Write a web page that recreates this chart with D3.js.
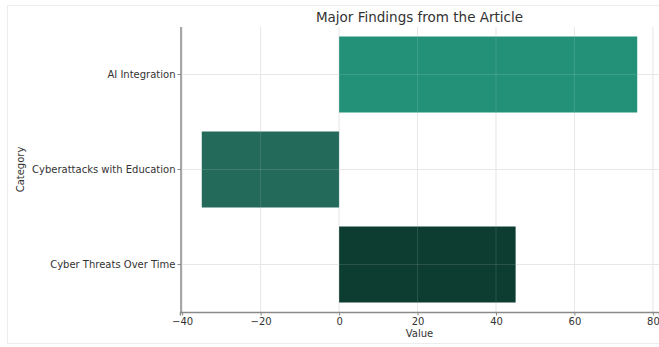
<!DOCTYPE html>
<html><head><meta charset="utf-8">
<script src="https://cdn.jsdelivr.net/npm/d3@7"></script>
<style>body{margin:0;background:#fff;} svg{display:block;}</style>
</head><body>
<script>
const categories = ["AI Integration", "Cyberattacks with Education", "Cyber Threats Over Time"];
const values = [76, -35, 45];
const colors = ["#229178", "#246a5a", "#0d3c30"];
const xTicks = [-40, -20, 0, 20, 40, 60, 80];
const title = "Major Findings from the Article";
const xLabel = "Value";
const yLabel = "Category";

const W = 659, H = 347;
const m = {left: 180, right: 0, top: 27, bottom: 35};
const svg = d3.select("body").append("svg").attr("width", W).attr("height", H);
const font = "DejaVu Sans, sans-serif";

svg.append("rect").attr("x", 7.5).attr("y", 5.5).attr("width", 660).attr("height", 338)
  .attr("fill", "#fff").attr("stroke", "#ececec");

const x = d3.scaleLinear().domain([-40.55, 81.55]).range([m.left, W - m.right]);
const y = d3.scaleBand().domain(categories).range([m.top, H - m.bottom]).paddingInner(0.2).paddingOuter(0.1);

// grid
svg.append("g").selectAll("line").data(xTicks).join("line")
  .attr("x1", d => x(d)).attr("x2", d => x(d)).attr("y1", m.top).attr("y2", H - m.bottom)
  .attr("stroke", "#e4e4e4").attr("stroke-width", 1);
svg.append("g").selectAll("line").data(categories).join("line")
  .attr("y1", d => y(d) + y.bandwidth() / 2).attr("y2", d => y(d) + y.bandwidth() / 2)
  .attr("x1", m.left).attr("x2", W - m.right)
  .attr("stroke", "#e4e4e4").attr("stroke-width", 1);

// bars
svg.append("g").selectAll("rect").data(categories).join("rect")
  .attr("x", (d, i) => x(Math.min(0, values[i])))
  .attr("width", (d, i) => Math.abs(x(values[i]) - x(0)))
  .attr("y", d => y(d)).attr("height", y.bandwidth())
  .attr("fill", (d, i) => colors[i]);

// grid over bars (faint, as in reference)
svg.append("g").selectAll("line").data(xTicks).join("line")
  .attr("x1", d => x(d)).attr("x2", d => x(d)).attr("y1", m.top).attr("y2", H - m.bottom)
  .attr("stroke", "#ffffff").attr("stroke-opacity", 0.12);
svg.append("g").selectAll("line").data(categories).join("line")
  .attr("y1", d => y(d) + y.bandwidth() / 2).attr("y2", d => y(d) + y.bandwidth() / 2)
  .attr("x1", m.left).attr("x2", W - m.right)
  .attr("stroke", "#ffffff").attr("stroke-opacity", 0.12);

// axes
const xAxis = d3.axisBottom(x).tickValues(xTicks).tickSize(3.5).tickPadding(2)
  .tickFormat(d => d < 0 ? "\u2212" + Math.abs(d) : String(d));
const gx = svg.append("g").attr("transform", `translate(0,${H - m.bottom})`).call(xAxis);
gx.select(".domain").attr("stroke", "#8a8a8a").attr("stroke-width", 1.5);
gx.selectAll(".tick line").attr("stroke", "#8a8a8a");
gx.selectAll("text").attr("font-family", font).attr("font-size", 10).attr("fill", "#333");

const yAxis = d3.axisLeft(y).tickSize(3.5).tickPadding(2);
const gy = svg.append("g").attr("transform", `translate(${m.left + 1},0)`).call(yAxis);
gy.select(".domain").attr("stroke", "#8a8a8a").attr("stroke-width", 1.5).attr("d", `M0,${m.top}V${H - m.bottom}`);
gy.selectAll(".tick line").attr("stroke", "#8a8a8a");
gy.selectAll("text").attr("font-family", font).attr("font-size", 10).attr("fill", "#333");

// labels
svg.append("text").attr("x", (m.left + W) / 2).attr("y", 22).attr("text-anchor", "middle")
  .attr("font-family", font).attr("font-size", 13.5).attr("fill", "#333").text(title);
svg.append("text").attr("x", (m.left + W) / 2).attr("y", 337).attr("text-anchor", "middle")
  .attr("font-family", font).attr("font-size", 10).attr("fill", "#333").text(xLabel);
svg.append("text").attr("transform", `translate(24,${(m.top + H - m.bottom) / 2}) rotate(-90)`)
  .attr("text-anchor", "middle").attr("font-family", font).attr("font-size", 10).attr("fill", "#333").text(yLabel);
</script>
</body></html>
